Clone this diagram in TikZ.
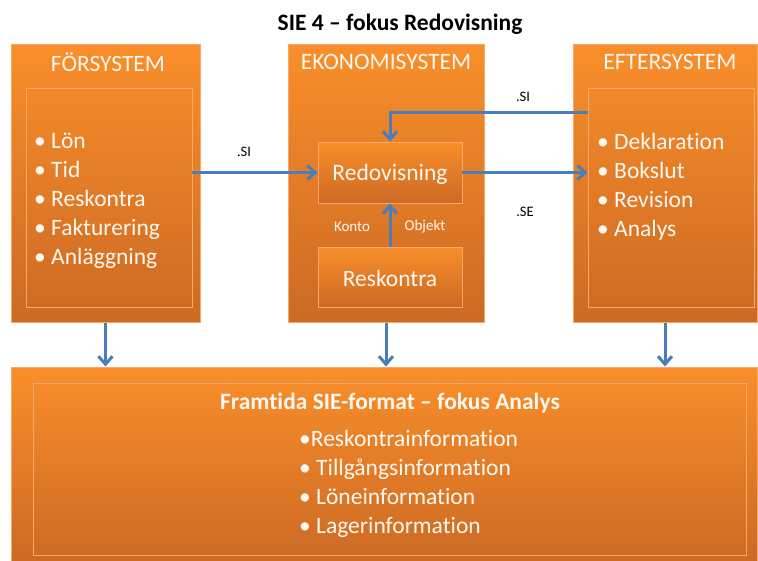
\documentclass[tikz,border=0pt]{standalone}
\usepackage{fontspec}
\setmainfont[Ligatures=NoCommon]{Carlito}
\usetikzlibrary{arrows.meta}
\definecolor{otop}{HTML}{F98E2A}
\definecolor{obot}{HTML}{CC6A24}
\definecolor{oline}{HTML}{F9A868}
\definecolor{ablue}{HTML}{4A7EBB}
\definecolor{wtxt}{HTML}{FFF8F0}
\begin{document}
\begin{tikzpicture}[x=1pt,y=-1pt,
  obox/.style={draw=oline, line width=1pt, top color=otop, bottom color=obot, inner sep=0pt},
  frame/.style={draw=oline, line width=0.8pt, inner sep=0pt},
  big/.style={text=wtxt, font=\fontsize{23.5}{29}\selectfont, inner sep=0pt},
  lst/.style={big, anchor=west, align=left},
  small/.style={text=wtxt, font=\fontsize{15}{18}\selectfont, inner sep=0pt},
  lbl/.style={text=black, font=\fontsize{14.5}{17}\selectfont, inner sep=0pt},
  arr/.style={draw=ablue, line width=3pt, -{Straight Barb[length=8pt,width=14pt]}}]
\useasboundingbox (0,0) rectangle (758,560);
\fill[white] (0,0) rectangle (758,560);
% title
\node[inner sep=0pt, font=\fontsize{23.5}{28}\selectfont\bfseries] (title) at (400,24) {SIE 4 – fokus Redovisning};
% outer boxes
\node[obox, minimum width=189pt, minimum height=278pt] (lft) at (105.5,183) {};
\node[obox, minimum width=196pt, minimum height=278pt] (mid) at (386,183) {};
\node[obox, minimum width=184pt, minimum height=278pt] (rgt) at (665,183) {};
\node[obox, minimum width=746pt, minimum height=196pt] (bot) at (384,465) {};
% inner frames
\node[frame, minimum width=166pt, minimum height=219pt] (lin) at (109,197.5) {};
\node[frame, minimum width=166pt, minimum height=219pt] (rin) at (671,197.5) {};
\node[frame, minimum width=713pt, minimum height=172pt] (bin) at (389.5,469) {};
% middle inner boxes
\node[obox, line width=0.8pt, minimum width=144pt, minimum height=61pt] (red) at (390,172.5) {};
\node[obox, line width=0.8pt, minimum width=144pt, minimum height=60pt] (res) at (390,277) {};
\node[big] (redt) at (390,174) {Redovisning};
\node[big] (rest) at (390,278.5) {Reskontra};
% box titles
\node[big] (t1) at (108,62) {FÖRSYSTEM};
\node[big] (t2) at (386,62) {EKONOMISYSTEM};
\node[big] (t3) at (670,62) {EFTERSYSTEM};
% lists
\node[lst] (l1) at (34,200.5) {\textbullet\ Lön\\\textbullet\ Tid\\\textbullet\ Reskontra\\\textbullet\ Fakturering\\\textbullet\ Anläggning};
\node[lst] (l2) at (597,186.5) {\textbullet\ Deklaration\\\textbullet\ Bokslut\\\textbullet\ Revision\\\textbullet\ Analys};
\node[big, font=\fontsize{23.5}{29}\selectfont\bfseries] (bt) at (390,403) {Framtida SIE-format – fokus Analys};
\node[lst] (l3) at (299,484) {\textbullet Reskontrainformation\\\textbullet\ Tillgångsinformation\\\textbullet\ Löneinformation\\\textbullet\ Lagerinformation};
% small labels
\node[small] (konto) at (352,227) {Konto};
\node[small] (objekt) at (425,227) {Objekt};
\node[lbl] (si1) at (244,152) {.SI};
\node[lbl] (se) at (525,212) {.SE};
\node[lbl] (si2) at (523,97) {.SI};
% arrows
\coordinate (fb) at (390,112);
\draw[arr] (red.west -| lin.east) -- (red.west);
\draw[arr] (red.east) -- (red.east -| rin.west);
\draw[arr] (rin.west |- fb) -- (fb) -- (red.north);
\draw[arr] (res.north) -- (red.south);
\draw[arr] (lft.south) -- (lft.south |- bot.north);
\draw[arr] (mid.south) -- (mid.south |- bot.north);
\draw[arr] (rgt.south) -- (rgt.south |- bot.north);
\end{tikzpicture}
\end{document}
